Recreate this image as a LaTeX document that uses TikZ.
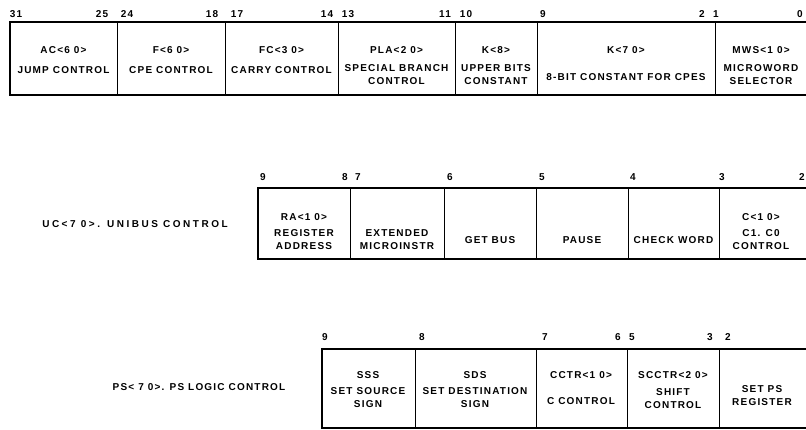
\documentclass[tikz,border=0pt]{standalone}
\usepackage{fontspec}
\newfontfamily\fieldfont{Liberation Sans}[LetterSpace=12]
\newfontfamily\widefont{Liberation Sans}[LetterSpace=25]
\usepackage{tikz}

\tikzset{
  lbl/.style={font={\fieldfont\bfseries\fontsize{10}{13}\selectfont},align=center,inner sep=0pt},
  widelbl/.style={lbl,font={\widefont\bfseries\fontsize{10}{13}\selectfont}},
  bitno/.style={font={\fieldfont\bfseries\fontsize{10}{13}\selectfont},anchor=base,inner sep=0pt},
  word/.style={line width=2.2pt},
  sep/.style={line width=0.9pt}
}

\begin{document}
\begin{tikzpicture}[x=1pt,y=-1pt]
  \useasboundingbox (0,0) rectangle (806,430);
  % microword
  \draw[word] (806,22) -- (10,22) -- (10,95) -- (806,95);
  \foreach \x in {117,225,338,455,537,715} \draw[sep] (\x,22) -- (\x,95);
  \foreach \n/\x in {31/16,25/102,24/127,18/212,17/237,14/327,13/348,11/445,10/466,9/543,2/702,1/716,0/800}
    \node[bitno] (m\n) at (\x,18) {\n};
  \node[lbl] (ac)   at (63.5,50) {AC<6 0>};
  \node[lbl] (acx)  at (63.5,70) {JUMP CONTROL};
  \node[lbl] (f)    at (171,50) {F<6 0>};
  \node[lbl] (fx)   at (171,70) {CPE CONTROL};
  \node[lbl] (fc)   at (281.5,50) {FC<3 0>};
  \node[lbl] (fcx)  at (281.5,70) {CARRY CONTROL};
  \node[lbl] (pla)  at (396.5,50) {PLA<2 0>};
  \node[lbl] (plax) at (396.5,75) {SPECIAL BRANCH\\CONTROL};
  \node[lbl] (kh)   at (496,50) {K<8>};
  \node[lbl] (khx)  at (496,75) {UPPER BITS\\CONSTANT};
  \node[lbl] (kl)   at (626,50) {K<7 0>};
  \node[lbl] (klx)  at (626,77) {8-BIT CONSTANT FOR CPES};
  \node[lbl] (mws)  at (761,50) {MWS<1 0>};
  \node[lbl] (mwsx) at (761,75) {MICROWORD\\SELECTOR};
  % unibus control
  \node[widelbl] (uc) at (135,224) {UC<7 0>. UNIBUS CONTROL};
  \draw[word] (806,188) -- (258,188) -- (258,259) -- (806,259);
  \foreach \x in {350,444,536,628,719} \draw[sep] (\x,188) -- (\x,259);
  \foreach \n/\x in {9/263,8/345,7/358,6/450,5/542,4/633,3/722,2/802}
    \node[bitno] (u\n) at (\x,181) {\n};
  \node[lbl] (ra)   at (304,217) {RA<1 0>};
  \node[lbl] (rax)  at (304,240) {REGISTER\\ADDRESS};
  \node[lbl] (ext)  at (397,240) {EXTENDED\\MICROINSTR};
  \node[lbl] (get)  at (490,240) {GET BUS};
  \node[lbl] (pau)  at (582,240) {PAUSE};
  \node[lbl] (chk)  at (673.5,240) {CHECK WORD};
  \node[lbl] (cc)   at (761,217) {C<1 0>};
  \node[lbl] (ccx)  at (761,240) {C1. C0\\CONTROL};
  % ps logic control
  \node[lbl] (ps) at (199,387) {PS< 7 0>. PS LOGIC CONTROL};
  \draw[word] (806,349) -- (322,349) -- (322,428) -- (806,428);
  \foreach \x in {415,536,627,719} \draw[sep] (\x,349) -- (\x,428);
  \foreach \n/\x in {9/325,8/422,7/545,6/618,5/632,3/710,2/728}
    \node[bitno] (p\n) at (\x,341) {\n};
  \node[lbl] (sss)   at (368,375) {SSS};
  \node[lbl] (sssx)  at (368,398) {SET SOURCE\\SIGN};
  \node[lbl] (sds)   at (475,375) {SDS};
  \node[lbl] (sdsx)  at (475,398) {SET DESTINATION\\SIGN};
  \node[lbl] (cctr)  at (581,375) {CCTR<1 0>};
  \node[lbl] (cctrx) at (581,401) {C CONTROL};
  \node[lbl] (scc)   at (673,375) {SCCTR<2 0>};
  \node[lbl] (sccx)  at (673,399) {SHIFT\\CONTROL};
  \node[lbl] (setps) at (762,396) {SET PS\\REGISTER};
\end{tikzpicture}
\end{document}
